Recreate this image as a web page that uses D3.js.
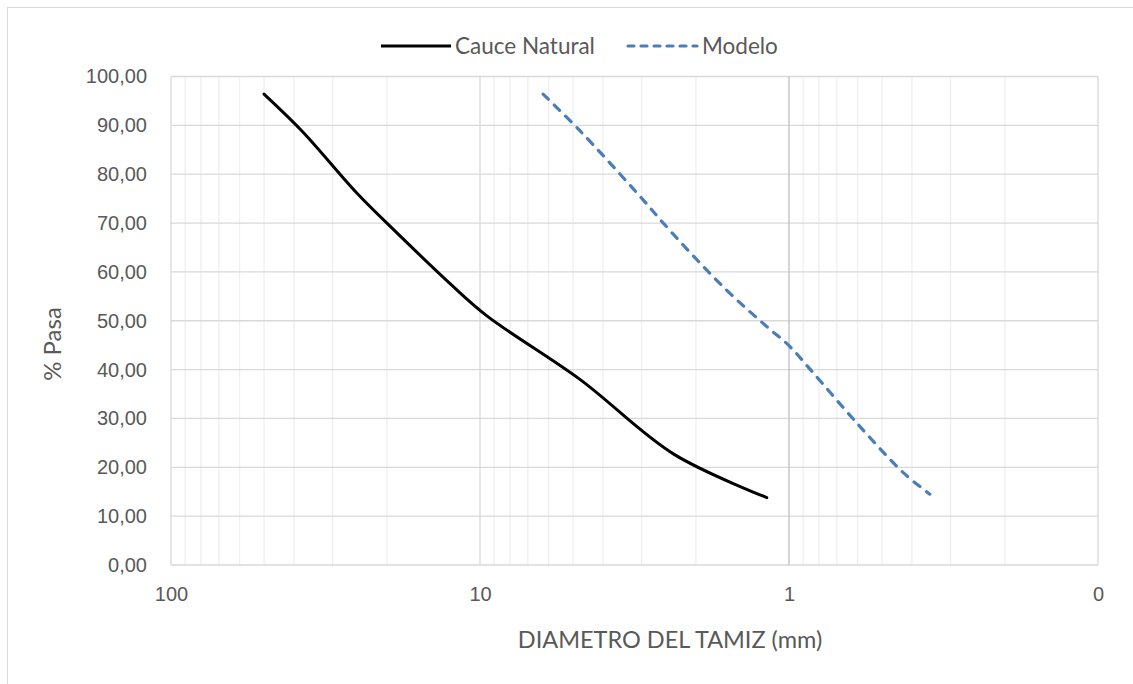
<!DOCTYPE html>
<html>
<head>
<meta charset="utf-8">
<script src="https://cdn.jsdelivr.net/npm/d3@7"></script>
<style>
  body { margin: 0; background: #fff; }
  svg { display: block; font-family: Lato, "Open Sans", sans-serif; }
</style>
</head>
<body>
<div id="chart"></div>
<script>
// Cauce Natural: diametro (mm) vs % que pasa
const diamNatural = [50, 37.5, 25, 19, 12.5, 9.5, 4.75, 2.36, 1.18];
const pasaNatural = [96.4, 88.7, 76.1, 68.6, 57.6, 51.0, 38.0, 22.7, 13.8];

// Modelo
const diamModelo = [6.25, 4.75, 3.2, 2.36, 1.6, 1.18, 1.0, 0.85, 0.6, 0.425, 0.35];
const pasaModelo = [96.4, 88.9, 77.1, 67.6, 56.4, 48.8, 44.9, 39.9, 28.9, 18.8, 14.5];

const yTicks = [0, 10, 20, 30, 40, 50, 60, 70, 80, 90, 100];
const xTickValues = [100, 10, 1, 0.1];
const xTickLabels = ["100", "10", "1", "0"];
const seriesNames = ["Cauce Natural", "Modelo"];

(() => {
    const width = 1133, height = 684;
    const plot = { left: 171, right: 1098, top: 76.5, bottom: 565 };
    const textColor = "#595959";

    const svg = d3.select("#chart").append("svg")
        .attr("width", width)
        .attr("height", height);

    // borde del grafico
    svg.append("rect")
        .attr("x", 7.5).attr("y", 7.5)
        .attr("width", 1200).attr("height", 800)
        .attr("fill", "none")
        .attr("stroke", "#d9d9d9");

    const x = d3.scaleLog().domain([100, 0.1]).range([plot.left, plot.right]);
    const y = d3.scaleLinear().domain([0, 100]).range([plot.bottom, plot.top]);

    // lineas menores (2..9 por decada)
    const minor = [];
    [0.1, 1, 10].forEach(dec => { for (let k = 2; k <= 9; k++) minor.push(dec * k); });

    svg.append("g").selectAll("line")
        .data(minor)
        .enter().append("line")
        .attr("x1", d => x(d)).attr("x2", d => x(d))
        .attr("y1", plot.top).attr("y2", plot.bottom)
        .attr("stroke", "#efefef")
        .attr("stroke-width", 1.3);

    // lineas horizontales
    svg.append("g").selectAll("line")
        .data(yTicks)
        .enter().append("line")
        .attr("x1", plot.left).attr("x2", plot.right)
        .attr("y1", d => y(d)).attr("y2", d => y(d))
        .attr("stroke", "#d9d9d9")
        .attr("stroke-width", 1.3);

    // lineas mayores verticales
    svg.append("g").selectAll("line")
        .data(xTickValues)
        .enter().append("line")
        .attr("x1", d => x(d)).attr("x2", d => x(d))
        .attr("y1", plot.top).attr("y2", plot.bottom)
        .attr("stroke", d => d === 1 ? "#bfbfbf" : "#d9d9d9")
        .attr("stroke-width", 1.3);

    // eje Y
    const fmt = d3.formatLocale({ decimal: ",", thousands: ".", grouping: [3], currency: ["", ""] }).format(".2f");
    const yAxis = svg.append("g")
        .attr("transform", `translate(${plot.left - 24},0)`)
        .call(d3.axisLeft(y).tickValues(yTicks).tickFormat(fmt).tickSize(0));
    yAxis.select(".domain").remove();
    yAxis.selectAll("text")
        .attr("x", 0)
        .style("font-size", "20px")
        .attr("fill", textColor)
        .style("font-family", null);

    // eje X
    const xAxis = svg.append("g")
        .attr("transform", `translate(0,${plot.bottom + 22})`)
        .call(d3.axisBottom(x).tickValues(xTickValues).tickFormat((d, i) => xTickLabels[i]).tickSize(0));
    xAxis.select(".domain").remove();
    xAxis.selectAll("text")
        .attr("y", 0)
        .attr("dy", "0.71em")
        .style("font-size", "20px")
        .attr("fill", textColor)
        .style("font-family", null);

    // titulos de ejes
    svg.append("text")
        .attr("x", 670).attr("y", 648)
        .attr("text-anchor", "middle")
        .style("font-size", "23.5px")
        .attr("fill", textColor)
        .text("DIAMETRO DEL TAMIZ (mm)");

    svg.append("text")
        .attr("transform", "translate(61,344) rotate(-90)")
        .attr("text-anchor", "middle")
        .style("font-size", "24px")
        .attr("fill", textColor)
        .text("% Pasa");

    // series
    const line = d3.line()
        .x(d => x(d[0]))
        .y(d => y(d[1]))
        .curve(d3.curveCatmullRom.alpha(0.5));

    const natural = diamNatural.map((d, i) => [d, pasaNatural[i]]);
    const modelo = diamModelo.map((d, i) => [d, pasaModelo[i]]);

    svg.append("path")
        .datum(natural)
        .attr("d", line)
        .attr("fill", "none")
        .attr("stroke", "#000")
        .attr("stroke-width", 3)
        .attr("stroke-linecap", "round");

    svg.append("path")
        .datum(modelo)
        .attr("d", line)
        .attr("fill", "none")
        .attr("stroke", "#4a7ebb")
        .attr("stroke-width", 3.2)
        .attr("stroke-linecap", "round")
        .attr("stroke-dasharray", "7.5 8.3");

    // leyenda
    const legend = svg.append("g");
    const items = [
        { name: seriesNames[0], x1: 381, x2: 451, tx: 455, color: "#000", dash: null },
        { name: seriesNames[1], x1: 628, x2: 697, tx: 702, color: "#4a7ebb", dash: "6 7" }
    ];
    items.forEach(it => {
        legend.append("line")
            .attr("x1", it.x1).attr("x2", it.x2)
            .attr("y1", 46).attr("y2", 46)
            .attr("stroke", it.color)
            .attr("stroke-width", 3.2)
            .attr("stroke-linecap", it.dash ? "round" : "butt")
            .attr("stroke-dasharray", it.dash);
        legend.append("text")
            .attr("x", it.tx).attr("y", 46)
            .attr("dy", "0.35em")
            .style("font-size", "22.5px")
            .attr("fill", textColor)
            .text(it.name);
    });
})();
</script>
</body>
</html>
